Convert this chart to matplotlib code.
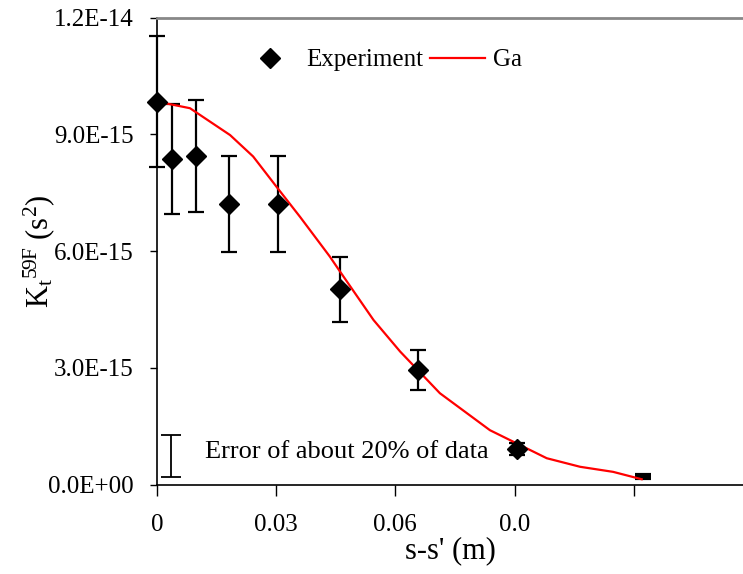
import numpy as np
import matplotlib
matplotlib.use("Agg")
import matplotlib.pyplot as plt

plt.rcParams['font.family'] = ['Liberation Serif', 'DejaVu Serif']
plt.rcParams['mathtext.fontset'] = 'custom'
plt.rcParams['mathtext.rm'] = 'Liberation Serif'
plt.rcParams['mathtext.it'] = 'Liberation Serif:italic'

# experiment points (s-s' in m, K in units of 1e-15 s^2)
exp_x = [0.0, 0.0039, 0.0098, 0.0182, 0.0304, 0.0461, 0.0656, 0.0907]
exp_y = [9.84, 8.36, 8.45, 7.21, 7.21, 5.02, 2.95, 0.91]
exp_err = [1.69, 1.41, 1.44, 1.23, 1.23, 0.84, 0.51, 0.15]

# last point, only the tiny error bar shows
tail_x = [0.1224]
tail_y = [0.21]
tail_err = [0.03]

# Ga curve
ga_x = [0.002, 0.0083, 0.0184, 0.0242, 0.0301, 0.036, 0.0435, 0.0461,
        0.0545, 0.0612, 0.0712, 0.0838, 0.0981, 0.1065, 0.1148, 0.122]
ga_y = [9.80, 9.67, 8.98, 8.43, 7.65, 6.88, 5.86, 5.47,
        4.23, 3.42, 2.35, 1.40, 0.68, 0.46, 0.33, 0.14]

x_ticks = [0, 0.03, 0.06, 0.09, 0.12]
x_labels = ["0", "0.03", "0.06", "0.0", ""]
y_ticks = [0, 3, 6, 9, 12]
y_labels = ["0.0E+00", "3.0E-15", "6.0E-15", "9.0E-15", "1.2E-14"]

scale = 1e-15

fig = plt.figure(figsize=(7.43, 5.74), dpi=100)
ax = fig.add_axes([157 / 743, 1 - 484.7 / 574, 1 - 157 / 743, (484.7 - 17.5) / 574])

eb = ax.errorbar(exp_x, np.array(exp_y) * scale, yerr=np.array(exp_err) * scale,
                 fmt='none', ecolor='black', elinewidth=1.6, capsize=6, capthick=1.6, zorder=2)
for art in eb.lines[1] + eb.lines[2]:
    art.set_clip_on(False)
ax.plot(exp_x, np.array(exp_y) * scale, 'D', color='black', markersize=10,
        label='Experiment', zorder=4, clip_on=False)
ax.errorbar(tail_x, np.array(tail_y) * scale, yerr=np.array(tail_err) * scale,
            fmt='none', ecolor='black', elinewidth=1.6, capsize=6, capthick=3, zorder=2)
ax.plot(ga_x, np.array(ga_y) * scale, color='red', linewidth=1.6, label='Ga', zorder=3)

# error annotation
ax.errorbar([0.0035], [0.735 * scale], yerr=[0.545 * scale], fmt='none',
            ecolor='black', elinewidth=1.3, capsize=7, capthick=1.3)
ax.text(0.0121, 0.84 * scale, "Error of about 20% of data", fontsize=19,
        va='center', ha='left')

ax.set_xlim(0, 0.1475)
ax.set_ylim(0, 12 * scale)
ax.set_xticks(x_ticks)
ax.set_xticklabels(x_labels)
ax.set_yticks(np.array(y_ticks) * scale)
ax.set_yticklabels(y_labels)
ax.tick_params(axis='x', direction='out', length=8, width=1, labelsize=18, pad=13)
ax.tick_params(axis='y', direction='out', length=5, width=1, labelsize=18, pad=12)

ax.spines['right'].set_visible(False)
ax.spines['top'].set_color('#888888')
ax.spines['top'].set_linewidth(2)
ax.spines['left'].set_linewidth(1.2)
ax.spines['bottom'].set_linewidth(1.2)

ax.set_xlabel("s-s' (m)", fontsize=22, labelpad=0)
ax.set_ylabel(r"$\mathrm{K_t}^{\mathrm{59F}}\ \mathrm{(s^2)}$", fontsize=22)
ax.yaxis.set_label_coords(-0.17, 0.5)

ax.legend(loc='center', bbox_to_anchor=(0.385, 0.909), ncol=2, frameon=False,
          fontsize=18, handlelength=2.2, handletextpad=0.34, columnspacing=0.25,
          numpoints=1)

fig.savefig("out.png", dpi=100)
